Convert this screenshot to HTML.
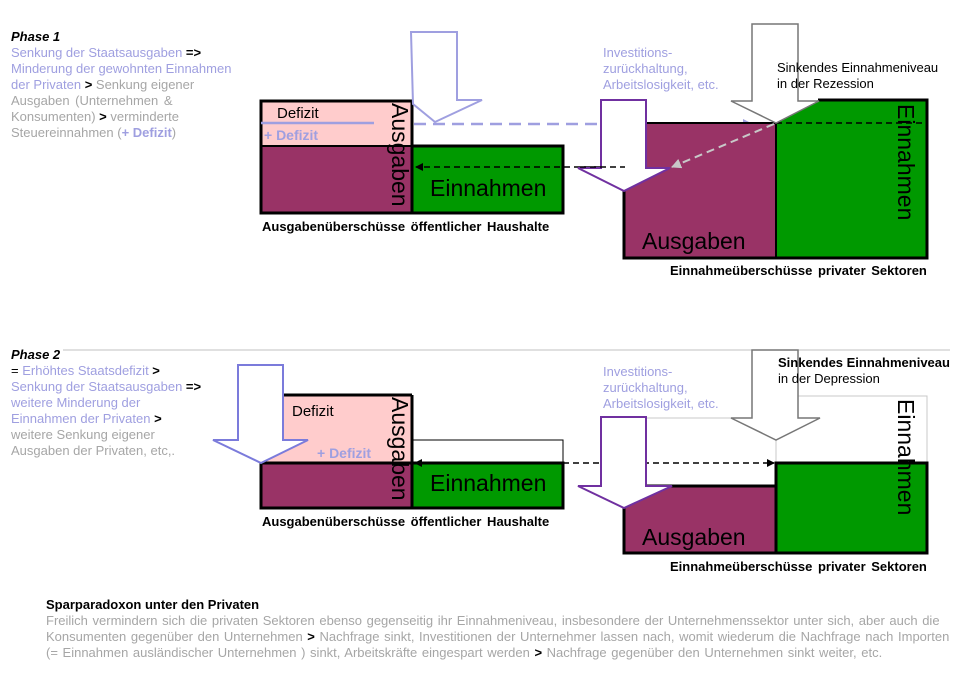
<!DOCTYPE html>
<html><head><meta charset="utf-8">
<style>
html,body{margin:0;padding:0;background:#fff;}
svg{display:block;font-family:"Liberation Sans",Arial,sans-serif;}
.s{font-size:13px;}
.lp{fill:#9f9fe0;}
.gr{fill:#a6a6a6;}
.b{font-weight:bold;}
.big{font-size:23px;fill:#000;}
.cap{font-size:13px;font-weight:bold;word-spacing:2px;}
.bt{font-size:13px;word-spacing:1px;}
</style></head><body>
<svg width="956" height="679" viewBox="0 0 956 679" xmlns="http://www.w3.org/2000/svg">
<defs>
<marker id="ab" markerWidth="8" markerHeight="8" refX="7" refY="4" orient="auto" markerUnits="userSpaceOnUse"><path d="M0,0 L8,4 L0,8z" fill="#000"/></marker>
<marker id="al" markerWidth="10" markerHeight="10" refX="9" refY="5" orient="auto" markerUnits="userSpaceOnUse"><path d="M0,0 L10,5 L0,10z" fill="#9f9fe0"/></marker>
<marker id="ag" markerWidth="10" markerHeight="10" refX="9" refY="5" orient="auto" markerUnits="userSpaceOnUse"><path d="M0,0 L10,5 L0,10z" fill="#c8c8c8"/></marker>
</defs>

<!-- Phase 1 text -->
<text class="s b" x="11" y="41" font-style="italic">Phase 1</text>
<text class="s" x="11" y="57"><tspan class="lp">Senkung der Staatsausgaben </tspan><tspan class="b">=&gt;</tspan></text>
<text class="s lp" x="11" y="73">Minderung der gewohnten Einnahmen</text>
<text class="s" x="11" y="89"><tspan class="lp">der Privaten </tspan><tspan class="b">&gt;</tspan><tspan class="gr"> Senkung eigener</tspan></text>
<text class="s gr" x="11" y="105" style="word-spacing:2px">Ausgaben  (Unternehmen  &amp;</text>
<text class="s" x="11" y="121"><tspan class="gr">Konsumenten) </tspan><tspan class="b">&gt;</tspan><tspan class="gr"> verminderte</tspan></text>
<text class="s" x="11" y="137"><tspan class="gr">Steuereinnahmen  (</tspan><tspan class="lp b">+ Defizit</tspan><tspan class="gr">)</tspan></text>

<!-- Phase 1 left block -->
<rect x="261" y="101" width="151" height="45" fill="#ffcccc"/>
<rect x="261" y="146" width="151" height="67" fill="#993366"/>
<rect x="412" y="146" width="151" height="67" fill="#009900" stroke="#000" stroke-width="3"/>
<rect x="261" y="101" width="151" height="112" fill="none" stroke="#000" stroke-width="3"/>
<line x1="261" y1="146" x2="412" y2="146" stroke="#000" stroke-width="2"/>
<line x1="261" y1="123" x2="374" y2="123" stroke="#9f9fe0" stroke-width="2.5"/>
<text x="277" y="118" style="font-size:15px">Defizit</text>
<text class="lp b" x="264" y="140" style="font-size:14px">+ Defizit</text>
<text class="big" transform="translate(392,103) rotate(90)">Ausgaben</text>
<text class="big" x="430" y="196">Einnahmen</text>
<polygon points="411,32 457,32 457,100 482,100 435,122 413,104" fill="#fff" stroke="#9f9fe0" stroke-width="2"/>
<line x1="414" y1="124" x2="752" y2="124" stroke="#9f9fe0" stroke-width="2.5" stroke-dasharray="12,7" marker-end="url(#al)"/>
<line x1="640" y1="167" x2="416" y2="167" stroke="#000" stroke-width="1.5" stroke-dasharray="6,4" marker-end="url(#ab)"/>
<text class="cap" x="262" y="231">Ausgabenüberschüsse  öffentlicher  Haushalte</text>

<!-- Phase 1 right block -->
<polygon points="646,123 776,123 776,258 624,258 624,191 670,168 646,168" fill="#993366"/>
<polygon points="776,123 818,100 927,100 927,258 776,258" fill="#009900"/>
<polyline points="624,191 624,258 927,258 927,100 818,100" fill="none" stroke="#000" stroke-width="3"/>
<line x1="776" y1="123" x2="776" y2="258" stroke="#000" stroke-width="2"/>
<line x1="646" y1="123" x2="776" y2="123" stroke="#000" stroke-width="2"/>
<line x1="776" y1="123" x2="925" y2="123" stroke="#000" stroke-width="1.5" stroke-dasharray="6,4"/>
<polygon points="752,24 798,24 798,101 819,101 776,123 731,101 752,101" fill="#fff" stroke="#777" stroke-width="1.5"/>
<polygon points="601,100 646,100 646,168 670,168 624,191 578,168 601,168" fill="#fff" stroke="#7030a0" stroke-width="2"/>
<line x1="580" y1="167" x2="625" y2="167" stroke="#000" stroke-width="1.5" stroke-dasharray="6,4"/>
<line x1="774" y1="124" x2="672" y2="167" stroke="#c8c8c8" stroke-width="2" stroke-dasharray="8,5" marker-end="url(#ag)"/>
<text class="s lp" x="603" y="57">Investitions-</text>
<text class="s lp" x="603" y="73">zurückhaltung,</text>
<text class="s lp" x="603" y="89">Arbeitslosigkeit, etc.</text>
<text class="s" x="777" y="72">Sinkendes Einnahmeniveau</text>
<text class="s" x="777" y="88">in der Rezession</text>
<text class="big" transform="translate(898,104) rotate(90)">Einnahmen</text>
<text class="big" x="642" y="249">Ausgaben</text>
<text class="cap" x="670" y="275">Einnahmeüberschüsse  privater  Sektoren</text>

<!-- separator -->
<line x1="63" y1="350" x2="950" y2="350" stroke="#c0c0c0" stroke-width="1"/>

<!-- Phase 2 text -->
<text class="s b" x="11" y="359" font-style="italic">Phase 2</text>
<text class="s" x="11" y="375"><tspan>= </tspan><tspan class="lp">Erhöhtes Staatsdefizit </tspan><tspan class="b">&gt;</tspan></text>
<text class="s" x="11" y="391"><tspan class="lp">Senkung der Staatsausgaben </tspan><tspan class="b">=&gt;</tspan></text>
<text class="s lp" x="11" y="407">weitere Minderung  der</text>
<text class="s" x="11" y="423"><tspan class="lp">Einnahmen  der Privaten </tspan><tspan class="b">&gt;</tspan></text>
<text class="s gr" x="11" y="439">weitere Senkung eigener</text>
<text class="s gr" x="11" y="455">Ausgaben  der Privaten, etc,.</text>

<!-- Phase 2 left block -->
<rect x="261" y="395" width="151" height="68" fill="#ffcccc"/>
<rect x="261" y="463" width="151" height="45" fill="#993366"/>
<rect x="412" y="440" width="151" height="23" fill="#fff" stroke="#000" stroke-width="1"/>
<rect x="412" y="463" width="151" height="45" fill="#009900" stroke="#000" stroke-width="3"/>
<line x1="261" y1="395" x2="412" y2="395" stroke="#000" stroke-width="3"/>
<line x1="412" y1="395" x2="412" y2="508" stroke="#000" stroke-width="3"/>
<rect x="261" y="463" width="151" height="45" fill="none" stroke="#000" stroke-width="3"/>
<polygon points="238,365 283,365 283,440 308,440 261,463 213,440 238,440" fill="#fff" stroke="#7b7bdb" stroke-width="2"/>
<text x="292" y="416" style="font-size:15px">Defizit</text>
<text class="lp b" x="317" y="458" style="font-size:14px">+ Defizit</text>
<text class="big" transform="translate(392,397) rotate(90)">Ausgaben</text>
<text class="big" x="430" y="491">Einnahmen</text>
<line x1="430" y1="463" x2="415" y2="463" stroke="#000" stroke-width="1.5" marker-end="url(#ab)"/>
<line x1="563" y1="463" x2="774" y2="463" stroke="#000" stroke-width="1.5" stroke-dasharray="6,4" marker-end="url(#ab)"/>
<text class="cap" x="262" y="526">Ausgabenüberschüsse  öffentlicher  Haushalte</text>

<!-- Phase 2 right block -->
<rect x="776" y="396" width="151" height="67" fill="none" stroke="#c8c8c8" stroke-width="1"/>
<line x1="646" y1="418" x2="731" y2="418" stroke="#c8c8c8" stroke-width="1"/>
<line x1="776" y1="440" x2="776" y2="463" stroke="#c8c8c8" stroke-width="1"/>
<rect x="624" y="486" width="152" height="67" fill="#993366" stroke="#000" stroke-width="3"/>
<rect x="776" y="463" width="151" height="90" fill="#009900" stroke="#000" stroke-width="3"/>
<polygon points="752,350 798,350 798,418 820,418 776,440 731,418 752,418" fill="#fff" stroke="#777" stroke-width="1.5"/>
<polygon points="601,417 646,417 646,486 672,486 624,508 578,486 601,486" fill="#fff" stroke="#7030a0" stroke-width="2"/>
<text class="s lp" x="603" y="376">Investitions-</text>
<text class="s lp" x="603" y="392">zurückhaltung,</text>
<text class="s lp" x="603" y="408">Arbeitslosigkeit, etc.</text>
<text class="s b" x="778" y="367">Sinkendes Einnahmeniveau</text>
<text class="s" x="778" y="383">in der Depression</text>
<text class="big" transform="translate(898,399) rotate(90)">Einnahmen</text>
<text class="big" x="642" y="545">Ausgaben</text>
<text class="cap" x="670" y="571">Einnahmeüberschüsse  privater  Sektoren</text>

<!-- bottom text -->
<text class="s b" x="46" y="609">Sparparadoxon unter den Privaten</text>
<text class="bt gr" x="46" y="625">Freilich vermindern  sich die privaten Sektoren ebenso gegenseitig ihr Einnahmeniveau,  insbesondere der Unternehmenssektor unter sich, aber auch die</text>
<text class="bt" x="46" y="641"><tspan class="gr">Konsumenten gegenüber den Unternehmen  </tspan><tspan class="b">&gt;</tspan><tspan class="gr"> Nachfrage sinkt, Investitionen der Unternehmer  lassen nach, womit wiederum  die Nachfrage nach Importen</tspan></text>
<text class="bt" x="46" y="657"><tspan class="gr">(= Einnahmen  ausländischer Unternehmen  ) sinkt, Arbeitskräfte eingespart werden </tspan><tspan class="b">&gt;</tspan><tspan class="gr"> Nachfrage gegenüber den Unternehmen  sinkt weiter, etc.</tspan></text>
</svg>
</body></html>
